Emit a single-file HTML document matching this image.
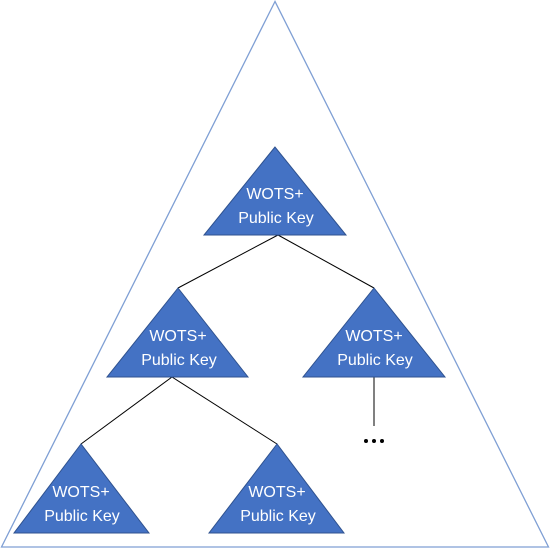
<!DOCTYPE html>
<html><head><style>html,body{margin:0;padding:0;background:#fff;}svg{display:block;}</style></head>
<body>
<svg width="550" height="549" viewBox="0 0 550 549" xmlns="http://www.w3.org/2000/svg">
<polygon points="275,1.5 1.5,547 548.5,547" fill="none" stroke="#7f9fd4" stroke-width="1.3"/>
<g stroke="#000" stroke-width="1" fill="none">
<line x1="278" y1="235" x2="178" y2="288"/>
<line x1="278" y1="235" x2="374" y2="288"/>
<line x1="172" y1="377" x2="81" y2="444"/>
<line x1="172" y1="377" x2="277" y2="444"/>
<line x1="374" y1="377" x2="374" y2="426"/>
</g>
<g fill="#000"><circle cx="366" cy="441" r="2"/><circle cx="374" cy="441" r="2"/><circle cx="382" cy="441" r="2"/></g>
<g fill="#4472c4" stroke="#2f528f" stroke-width="1">
<polygon points="275,147 204,235 346,235"/>
<polygon points="178,288 107,377 248,377"/>
<polygon points="374,288 303,377 445,377"/>
<polygon points="81,444 14,533 149,533"/>
<polygon points="277,444 209,533 344,533"/>
</g>
<g fill="#fff" font-family="Liberation Sans, sans-serif" font-size="16" text-anchor="middle">
<text x="275" y="199">WOTS+</text><text x="276" y="223">Public Key</text>
<text x="178" y="341">WOTS+</text><text x="179" y="365">Public Key</text>
<text x="374" y="341">WOTS+</text><text x="375" y="365">Public Key</text>
<text x="81" y="497">WOTS+</text><text x="82" y="521">Public Key</text>
<text x="277" y="497">WOTS+</text><text x="278" y="521">Public Key</text>
</g>
</svg>
</body></html>
